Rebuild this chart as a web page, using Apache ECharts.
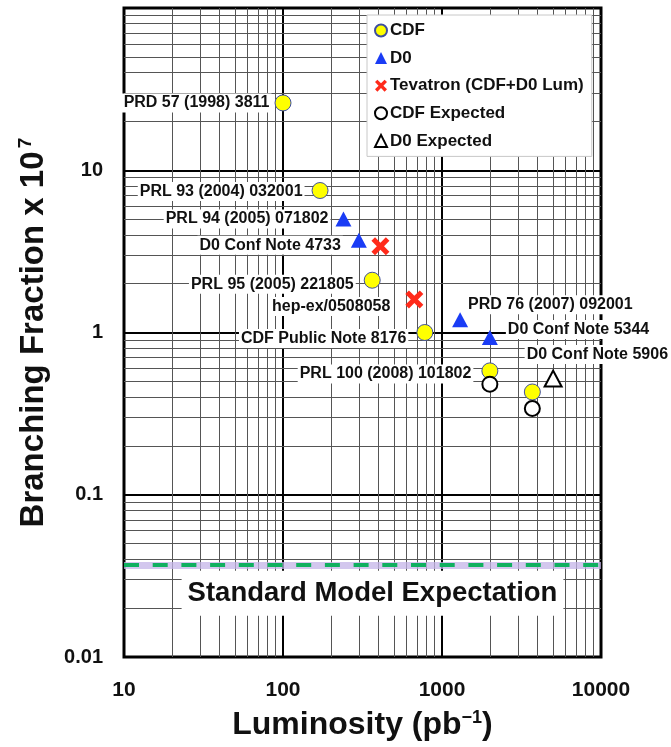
<!DOCTYPE html>
<html>
<head>
<meta charset="utf-8">
<script src="https://cdn.jsdelivr.net/npm/echarts@6/dist/echarts.min.js"></script>
<style>
  html, body { margin: 0; padding: 0; background: #ffffff; }
  #chart { width: 671px; height: 747px; }
</style>
</head>
<body>
<div id="chart"></div>
<script>
// Upper limits on the branching fraction (x 10^7) versus integrated luminosity (pb^-1)
const cdfLumi  = [100, 171, 364, 780, 2000, 3700];
const cdfLimit = [26, 7.5, 2.1, 1.0, 0.58, 0.43];
const cdfRefs  = ['PRD 57 (1998) 3811', 'PRL 93 (2004) 032001', 'PRL 95 (2005) 221805',
                  'CDF Public Note 8176', 'PRL 100 (2008) 101802', ''];

const d0Lumi  = [240, 300, 1300, 2000];
const d0Limit = [5.0, 3.7, 1.2, 0.93];
const d0Refs  = ['PRL 94 (2005) 071802', 'D0 Conf Note 4733', 'PRD 76 (2007) 092001', 'D0 Conf Note 5344'];

const tevLumi  = [410, 670];
const tevLimit = [3.4, 1.6];
const tevRefs  = ['', 'hep-ex/0508058'];

const cdfExpLumi  = [2000, 3700];
const cdfExpLimit = [0.48, 0.34];

const d0ExpLumi  = [5000];
const d0ExpLimit = [0.52];
const d0ExpRefs  = ['D0 Conf Note 5906'];

const smExpectation = 0.037;
const smLabel = 'Standard Model Expectation';

const seriesNames = ['CDF', 'D0', 'Tevatron (CDF+D0 Lum)', 'CDF Expected', 'D0 Expected'];

const xTickValues = [10, 100, 1000, 10000];
const xTickLabels = ['10', '100', '1000', '10000'];
const yTickValues = [0.01, 0.1, 1, 10];
const yTickLabels = ['0.01', '0.1', '1', '10'];

// label placement for each reference: [position, distance, dx, dy]
const cdfLabelPlace = [['left', 3, 0, 0], ['left', 7, 0, 1], ['left', 8, 0, 4],
                       ['left', 8, 0, 6], ['left', 8, 0, 3], ['left', 0, 0, 0]];
const d0LabelPlace  = [['left', 5, 0, 0], ['left', 8, 0, 5], ['right', -2, 0, -15], ['right', 8, 0, -8]];
const tevLabelPlace = [['left', 0, 0, 0], ['left', 13, 0, 7]];
const d0ExpLabelPlace = [['right', -2, -36, -24]];

const FONT = '"Liberation Sans", Arial, Helvetica, sans-serif';

function tickText(v, values, labels) {
  for (let i = 0; i < values.length; i++) {
    if (Math.abs(Math.log10(v) - Math.log10(values[i])) < 1e-6) return labels[i];
  }
  return '';
}

function buildPoints(xs, ys, refs, place) {
  return xs.map((x, i) => {
    const item = { value: [x, ys[i]] };
    if (refs && refs[i]) {
      const p = place[i];
      item.label = {
        show: true,
        formatter: refs[i],
        position: p[0],
        distance: p[1],
        offset: [p[2], p[3]],
        color: '#111',
        fontFamily: FONT,
        fontWeight: 'bold',
        fontSize: 16,
        lineHeight: 17,
        backgroundColor: '#ffffff',
        padding: [1, 2, 1, 2]
      };
    }
    return item;
  });
}

// minor grid positions 2..9 within every decade of each axis
function minorValues(lo, hi) {
  const out = [];
  for (let d = lo; d < hi; d *= 10) {
    for (let k = 2; k <= 9; k++) out.push(+(k * d).toPrecision(6));
  }
  return out;
}
const minorX = minorValues(10, 10000);
const minorY = minorValues(0.01, 100);

const crossPath = 'path://M2,0 L5,3 L8,0 L10,2 L7,5 L10,8 L8,10 L5,7 L2,10 L0,8 L3,5 L0,2 Z';

const chart = echarts.init(document.getElementById('chart'), null, { renderer: 'canvas' });

const option = {
  animation: false,
  backgroundColor: '#ffffff',
  textStyle: { fontFamily: FONT },
  grid: {
    left: 124, right: 70, top: 8, bottom: 90,
    show: true, borderColor: '#000', borderWidth: 3, backgroundColor: 'transparent'
  },
  legend: {
    data: seriesNames,
    orient: 'vertical',
    left: 367, top: 15, z: 8,
    padding: [7, 8, 7, 7],
    itemWidth: 12, itemHeight: 12, itemGap: 10.6,
    backgroundColor: '#ffffff',
    borderColor: '#c8c8c8', borderWidth: 1, borderRadius: 0,
    textStyle: { fontFamily: FONT, fontWeight: 'bold', fontSize: 17, lineHeight: 17, color: '#111', padding: [0, 0, 0, -2] }
  },
  xAxis: {
    type: 'log', logBase: 10, min: 10, max: 10000,
    name: 'Luminosity (pb{sup|\u22121})',
    nameLocation: 'middle', nameGap: 52,
    nameTextStyle: {
      fontFamily: FONT, fontWeight: 'bold', fontSize: 32, color: '#111',
      rich: { sup: { fontFamily: FONT, fontWeight: 'bold', fontSize: 18, color: '#111', verticalAlign: 'top', lineHeight: 32 } }
    },
    axisLine: { show: false },
    axisTick: { show: false },
    axisLabel: {
      margin: 23, fontFamily: FONT, fontWeight: 'bold', fontSize: 21, color: '#111',
      formatter: v => tickText(v, xTickValues, xTickLabels)
    },
    splitLine: { show: true, lineStyle: { color: '#000', width: 2 } }
  },
  yAxis: {
    type: 'log', logBase: 10, min: 0.01, max: 100,
    name: '{t|Branching Fraction x 10} {sup|7}',
    nameLocation: 'middle', nameGap: 72, nameRotate: 90,
    nameTextStyle: {
      rich: {
        t: { fontFamily: FONT, fontWeight: 'bold', fontSize: 33, color: '#111', lineHeight: 36 },
        sup: { fontFamily: FONT, fontWeight: 'bold', fontSize: 19, color: '#111', verticalAlign: 'top', lineHeight: 36 }
      }
    },
    axisLine: { show: false },
    axisTick: { show: false },
    axisLabel: {
      margin: 21, fontFamily: FONT, fontWeight: 'bold', fontSize: 20, color: '#111',
      formatter: v => tickText(v, yTickValues, yTickLabels)
    },
    splitLine: { show: true, lineStyle: { color: '#000', width: 2 } }
  },
  series: [
    {
      // minor log grid
      type: 'line', data: [], z: 1, silent: true,
      markLine: {
        z: 1, silent: true, precision: 6, symbol: ['none', 'none'], label: { show: false },
        lineStyle: { color: '#555', width: 1, type: 'solid' },
        data: minorX.map(v => ({ xAxis: v })).concat(minorY.map(v => ({ yAxis: v })))
      }
    },
    {
      // Standard Model expectation
      type: 'line', data: [], z: 3, silent: true,
      markLine: {
        z: 3, silent: true, precision: 6, symbol: ['none', 'none'],
        data: [
          { yAxis: smExpectation, label: { show: false },
            lineStyle: { color: 'rgba(196,180,232,0.75)', width: 7, type: 'solid' } },
          { yAxis: smExpectation,
            lineStyle: { color: '#10b060', width: 4, type: [15, 13.7] },
            label: {
              show: true, formatter: smLabel, position: 'insideMiddleBottom', distance: 3,
              offset: [10, 3],
              fontFamily: FONT, fontWeight: 'bold', fontSize: 27.5, color: '#111',
              backgroundColor: '#ffffff', padding: [9, 6, 8, 6]
            } }
        ]
      }
    },
    {
      name: seriesNames[0], type: 'scatter', z: 4,
      symbol: 'circle', symbolSize: 16,
      itemStyle: { color: '#ffff00', borderColor: '#3f4fa0', borderWidth: 1, opacity: 1 },
      data: buildPoints(cdfLumi, cdfLimit, cdfRefs, cdfLabelPlace)
    },
    {
      name: seriesNames[1], type: 'scatter', z: 4,
      symbol: 'triangle', symbolSize: [16, 15],
      itemStyle: { color: '#1a3cf5', opacity: 1 },
      data: buildPoints(d0Lumi, d0Limit, d0Refs, d0LabelPlace)
    },
    {
      name: seriesNames[2], type: 'scatter', z: 4,
      symbol: crossPath, symbolSize: 18,
      itemStyle: { color: '#ff2a1a', opacity: 1 },
      data: buildPoints(tevLumi, tevLimit, tevRefs, tevLabelPlace)
    },
    {
      name: seriesNames[3], type: 'scatter', z: 5,
      symbol: 'circle', symbolSize: 15,
      itemStyle: { color: '#ffffff', borderColor: '#000', borderWidth: 2, opacity: 1 },
      data: buildPoints(cdfExpLumi, cdfExpLimit, null, null)
    },
    {
      name: seriesNames[4], type: 'scatter', z: 5,
      symbol: 'triangle', symbolSize: [17, 16],
      itemStyle: { color: '#ffffff', borderColor: '#000', borderWidth: 2, opacity: 1 },
      data: buildPoints(d0ExpLumi, d0ExpLimit, d0ExpRefs, d0ExpLabelPlace)
    }
  ]
};

chart.setOption(option);
</script>
</body>
</html>
